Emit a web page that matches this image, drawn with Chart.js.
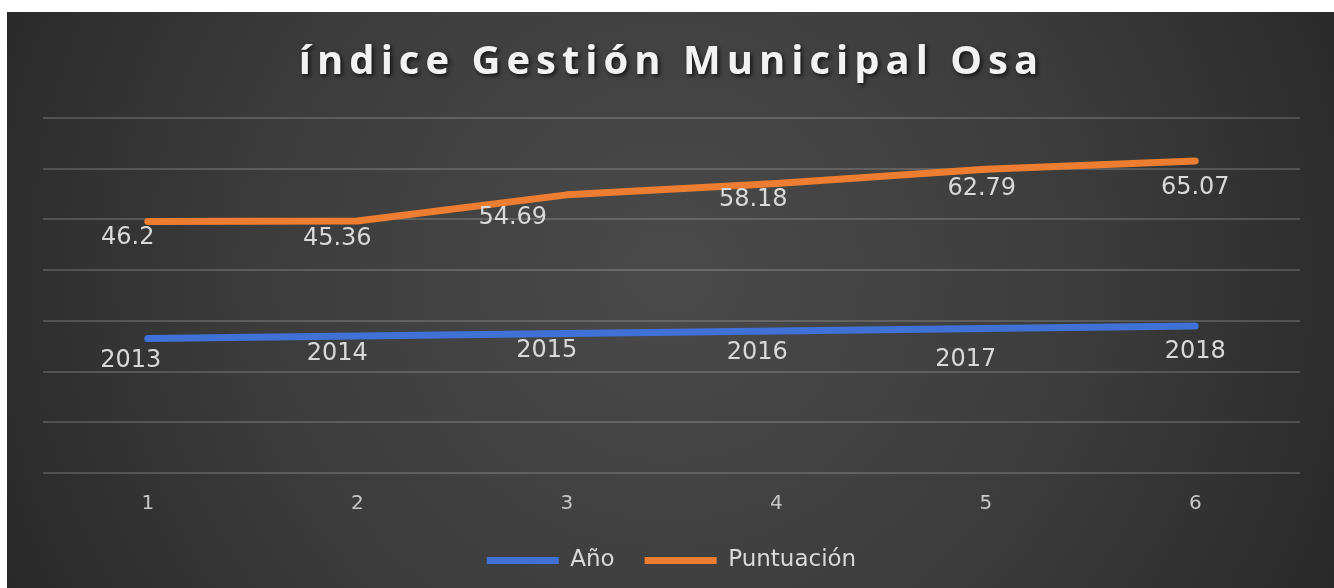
<!DOCTYPE html>
<html>
<head>
<meta charset="utf-8">
<script src="https://cdn.jsdelivr.net/npm/chart.js@4.4.1/dist/chart.umd.min.js"></script>
<style>
  html, body { margin: 0; padding: 0; background: #ffffff; overflow: hidden; }
  #wrap { position: absolute; left: 7px; top: 12px; width: 1327px; height: 576px; }
</style>
</head>
<body>
<div id="wrap"><canvas id="c" width="1327" height="576"></canvas></div>
<script>
// ---- data ----
const categories = ['1', '2', '3', '4', '5', '6'];
const anos = [2013, 2014, 2015, 2016, 2017, 2018];
const puntuacion = [46.2, 45.36, 54.69, 58.18, 62.79, 65.07];
const seriesNames = ['Año', 'Puntuación'];
const chartTitle = 'índice Gestión Municipal Osa';

// ---- styles ----
const BLUE = '#3F71D6';
const ORANGE = '#ED7D31';
const labelOffsets = [
  [[-17, 22], [-20, 18], [-20, 17], [-19, 22], [-20, 31], [0, 26]],
  [[-20, 16], [-20, 18], [-54, 23], [-23, 16], [-4, 20], [0, 27]]
];

const bgPlugin = {
  id: 'bg',
  beforeDraw(chart) {
    const ctx = chart.ctx, w = chart.width, h = chart.height;
    ctx.save();
    const g = ctx.createRadialGradient(w / 2, 260, 0, w / 2, 260, 820);
    g.addColorStop(0, '#4a4a4a');
    g.addColorStop(0.5, '#3c3c3c');
    g.addColorStop(1, '#242424');
    ctx.fillStyle = g;
    ctx.fillRect(0, 0, w, h);
    ctx.restore();
  }
};

const titlePlugin = {
  id: 'customTitle',
  afterDraw(chart) {
    const ctx = chart.ctx;
    ctx.save();
    ctx.font = 'bold 40px "Open Sans"';
    ctx.letterSpacing = '6px';
    ctx.fillStyle = '#f2f2f2';
    ctx.textAlign = 'center';
    ctx.textBaseline = 'alphabetic';
    ctx.shadowColor = 'rgba(0,0,0,0.7)';
    ctx.shadowBlur = 4;
    ctx.shadowOffsetX = 2;
    ctx.shadowOffsetY = 2;
    ctx.fillText(chartTitle, chart.width / 2 + 1, 62);
    ctx.restore();
  }
};

const labelPlugin = {
  id: 'dataLabels',
  afterDatasetsDraw(chart) {
    const ctx = chart.ctx;
    ctx.save();
    ctx.font = '24px "DejaVu Sans"';
    ctx.fillStyle = '#d9d9d9';
    ctx.textAlign = 'center';
    ctx.textBaseline = 'middle';
    chart.data.datasets.forEach((ds, di) => {
      const meta = chart.getDatasetMeta(di);
      meta.data.forEach((pt, i) => {
        const off = labelOffsets[di][i];
        ctx.fillText(String(ds.data[i]), pt.x + off[0], pt.y + off[1]);
      });
    });
    ctx.restore();
  }
};

new Chart(document.getElementById('c'), {
  type: 'line',
  data: {
    labels: categories,
    datasets: [
      {
        label: seriesNames[0], data: anos,
        borderColor: BLUE, backgroundColor: BLUE, borderWidth: 7,
        borderCapStyle: 'round', borderJoinStyle: 'round',
        pointRadius: 0, fill: false, tension: 0
      },
      {
        label: seriesNames[1], data: puntuacion,
        borderColor: ORANGE, backgroundColor: ORANGE, borderWidth: 7,
        borderCapStyle: 'round', borderJoinStyle: 'round',
        pointRadius: 0, fill: false, tension: 0
      }
    ]
  },
  options: {
    responsive: false,
    animation: false,
    devicePixelRatio: 1,
    layout: { padding: { left: 36, right: 34, top: 106, bottom: 6 } },
    scales: {
      x: {
        offset: true,
        grid: { display: false, drawTicks: false },
        border: { display: false },
        ticks: { color: '#c8c8c8', font: { family: 'DejaVu Sans', size: 20, lineHeight: 1.2 }, padding: 19 },
        afterFit(scale) { scale.height = 46; }
      },
      y: {
        stacked: true,
        min: 1960, max: 2100,
        ticks: { display: false, stepSize: 20 },
        grid: { color: 'rgba(255,255,255,0.17)', lineWidth: 2, drawTicks: false },
        border: { display: false }
      }
    },
    plugins: {
      title: { display: false },
      tooltip: { enabled: false },
      legend: {
        position: 'bottom',
        labels: {
          usePointStyle: true,
          pointStyle: 'line',
          pointStyleWidth: 72,
          boxHeight: 7,
          padding: 30,
          color: '#d9d9d9',
          font: { family: 'DejaVu Sans', size: 23 }
        }
      }
    }
  },
  plugins: [bgPlugin, labelPlugin, titlePlugin]
});
</script>
</body>
</html>
